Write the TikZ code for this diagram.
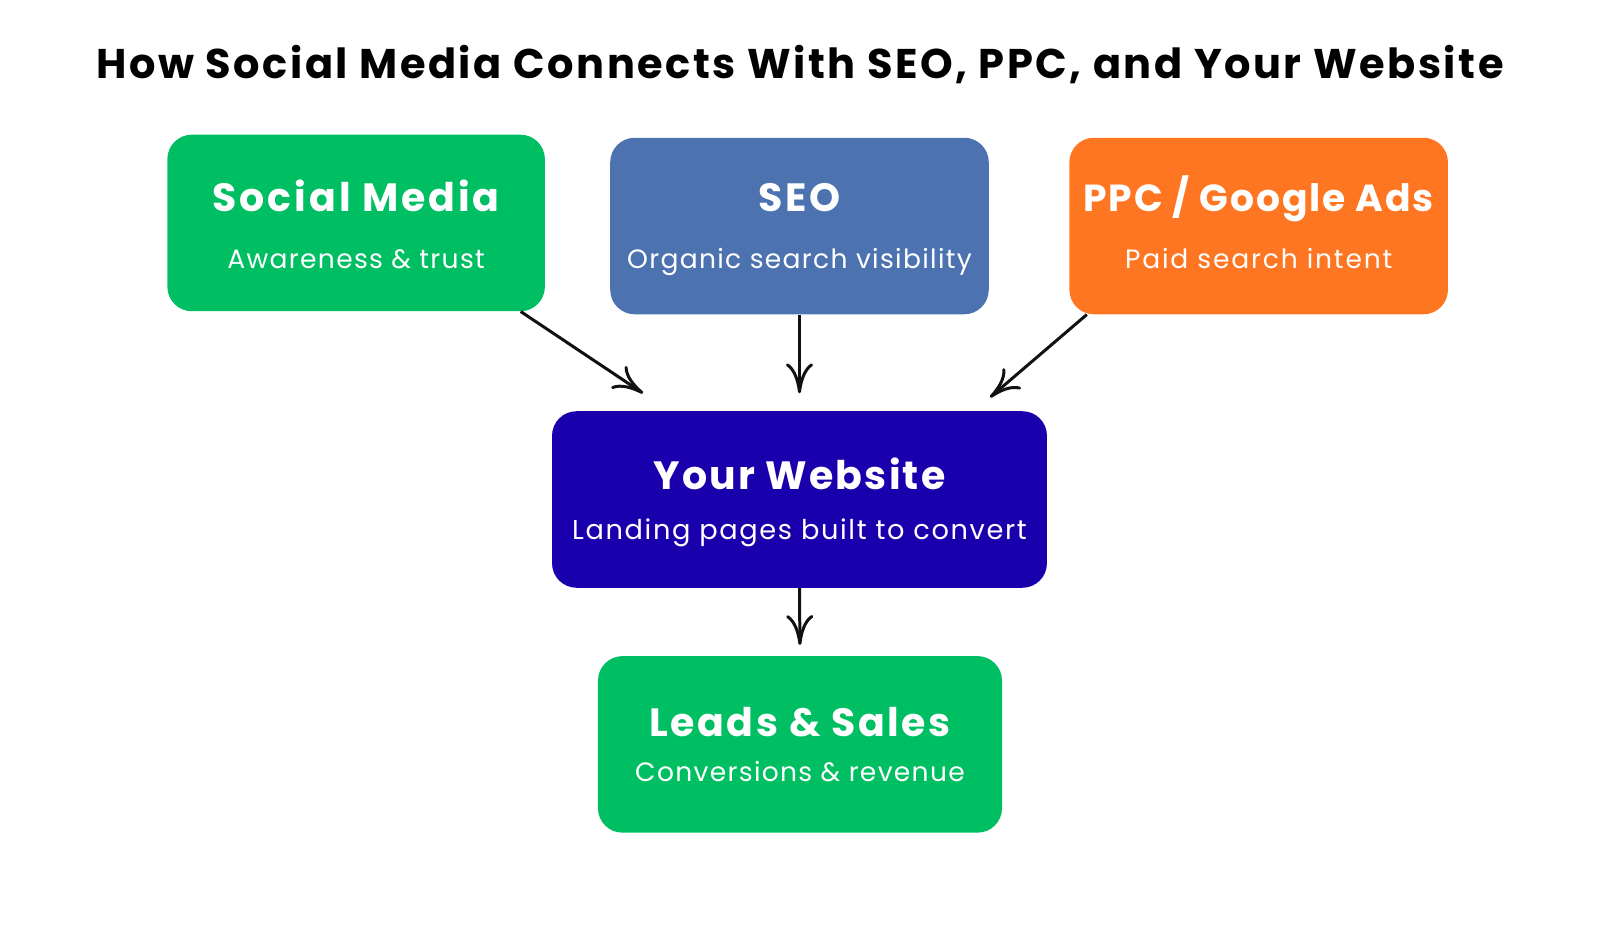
\documentclass[tikz,border=0pt]{standalone}
\usepackage{fontspec}
\setmainfont{Poppins}
\usetikzlibrary{arrows.meta}

\definecolor{mediagreen}{HTML}{00BF63}
\definecolor{seoblue}{HTML}{4C73B0}
\definecolor{ppcorange}{HTML}{FF7622}
\definecolor{sitenavy}{HTML}{1A00AD}
\definecolor{inkblack}{HTML}{111111}

\begin{document}
\begin{tikzpicture}[x=0.75pt,y=-0.75pt,
    >={Computer Modern Rightarrow[length=22pt,width=20pt]},
    card/.style={rounded corners=18pt, inner sep=0pt, minimum height=129.75pt},
    head/.style={anchor=base, text=white, font=\fontsize{29}{32}\selectfont\bfseries\addfontfeatures{LetterSpace=6.5}},
    sub/.style={anchor=base, text=white, font=\fontsize{19.5}{22}\selectfont\addfontfeatures{LetterSpace=5}},
    link/.style={->, line width=2.2pt, draw=inkblack}]

    \useasboundingbox (0,0) rectangle (1568,906);

    \node[anchor=base, font=\fontsize{30.5}{34}\selectfont\bfseries\addfontfeatures{LetterSpace=6.2}] (title) at (784,76.5) {How Social Media Connects With SEO, PPC, and Your Website};

    % top row
    \node[card, fill=mediagreen, minimum width=277.5pt] (social) at (349,218.5) {};
    \node[card, fill=seoblue, minimum width=278.25pt] (seo) at (783.5,221.5) {};
    \node[card, fill=ppcorange, minimum width=278.25pt] (ppc) at (1233.5,221.5) {};

    \node[head, font=\fontsize{29}{32}\selectfont\bfseries\addfontfeatures{LetterSpace=7.5}] (socialhead) at (349,207) {Social Media};
    \node[sub] (socialsub) at (349,263) {Awareness \& trust};
    \node[head] (seohead) at (783.5,207) {SEO};
    \node[sub] (seosub) at (783.5,263) {Organic search visibility};
    \node[head, font=\fontsize{27.7}{30}\selectfont\bfseries\addfontfeatures{LetterSpace=5}] (ppchead) at (1233.5,207) {PPC / Google Ads};
    \node[sub, font=\fontsize{19.5}{22}\selectfont\addfontfeatures{LetterSpace=7}] (ppcsub) at (1233.5,263) {Paid search intent};

    % website and leads
    \node[card, fill=sitenavy, minimum width=363.75pt] (web) at (783.5,489.5) {};
    \node[head, font=\fontsize{29}{32}\selectfont\bfseries\addfontfeatures{LetterSpace=5.5}] (webhead) at (783.5,480) {Your Website};
    \node[sub, font=\fontsize{20}{22}\selectfont\addfontfeatures{LetterSpace=6}] (websub) at (783.5,529) {Landing pages built to convert};

    \node[card, fill=mediagreen, minimum width=297pt] (leads) at (784,729.5) {};
    \node[head] (leadshead) at (784,722) {Leads \& Sales};
    \node[sub] (leadssub) at (784,766) {Conversions \& revenue};

    \draw[link] ([xshift=-18pt]social.south east) -- ([xshift=-115pt,yshift=13pt]web.north);
    \draw[link, shorten >=13pt] (seo.south) -- (web.north);
    \draw[link] ([xshift=13pt]ppc.south west) -- ([xshift=-42pt,yshift=10pt]web.north east);
    \draw[link, shorten >=8pt] (web.south) -- (leads.north);

  \end{tikzpicture}
\end{document}
